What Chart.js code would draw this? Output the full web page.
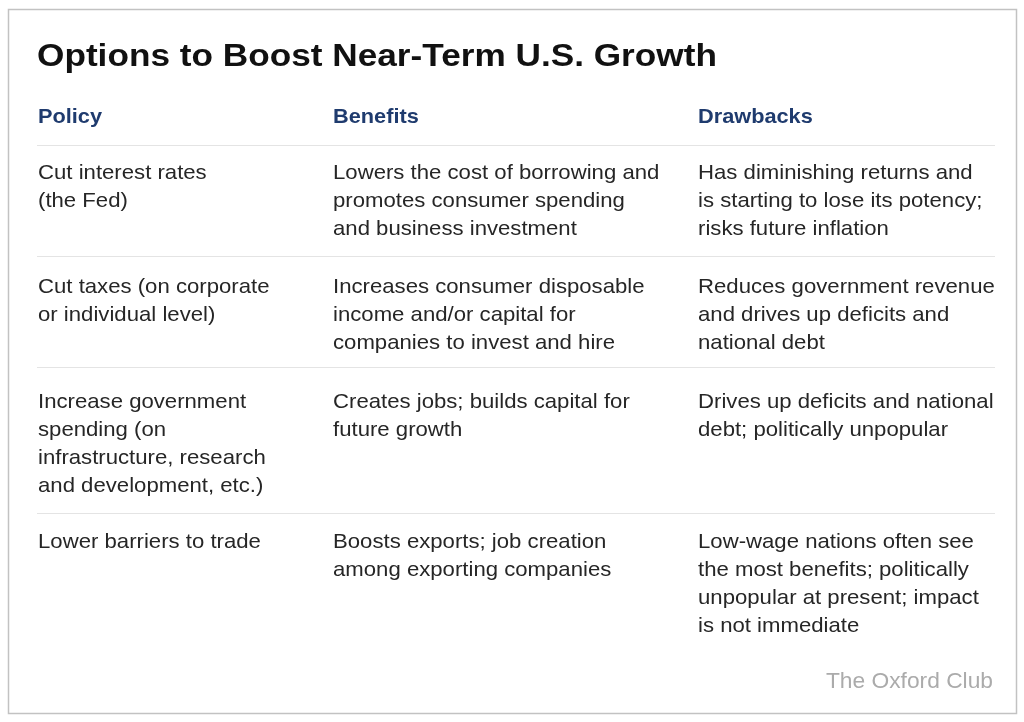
<!DOCTYPE html>
<html>
<head>
<meta charset="utf-8">
<script src="https://cdn.jsdelivr.net/npm/chart.js@4/dist/chart.umd.min.js"></script>
<style>
  html, body { margin: 0; padding: 0; background: #fff; }
  #wrap { width: 1024px; height: 722px; }
</style>
</head>
<body>
<div id="wrap"><canvas id="tabla" width="1024" height="722"></canvas></div>
<script>
// datos de la tabla
const titulo = 'Options to Boost Near-Term U.S. Growth';
const cabeceras = ['Policy', 'Benefits', 'Drawbacks'];
const politicas = [
  ['Cut interest rates', '(the Fed)'],
  ['Cut taxes (on corporate', 'or individual level)'],
  ['Increase government', 'spending (on', 'infrastructure, research', 'and development, etc.)'],
  ['Lower barriers to trade']
];
const beneficios = [
  ['Lowers the cost of borrowing and', 'promotes consumer spending', 'and business investment'],
  ['Increases consumer disposable', 'income and/or capital for', 'companies to invest and hire'],
  ['Creates jobs; builds capital for', 'future growth'],
  ['Boosts exports; job creation', 'among exporting companies']
];
const inconvenientes = [
  ['Has diminishing returns and', 'is starting to lose its potency;', 'risks future inflation'],
  ['Reduces government revenue', 'and drives up deficits and', 'national debt'],
  ['Drives up deficits and national', 'debt; politically unpopular'],
  ['Low-wage nations often see', 'the most benefits; politically', 'unpopular at present; impact', 'is not immediate']
];
const fuente = 'The Oxford Club';

// layout (pixeles del lienzo, se pasan por las escalas)
const colX = [38, 333, 698];
const lineaIni = 37, lineaFin = 995;
const filaTop = [145, 256, 367, 513];
const filaBase = [179, 293, 408, 548];
const interlinea = 28;
const FONT = '"Liberation Sans", Arial, Helvetica, sans-serif';

// texto algo ensanchado para parecerse a Helvetica Neue
function texto(ctx, t, x, y, sx) {
  ctx.save();
  ctx.translate(x, y);
  ctx.scale(sx, 1);
  ctx.fillText(t, 0, 0);
  ctx.restore();
}

const tablaPlugin = {
  id: 'tabla',
  afterDraw(chart) {
    const { ctx } = chart;
    const x = chart.scales.x, y = chart.scales.y;
    const px = v => x.getPixelForValue(v);
    const py = v => y.getPixelForValue(v);
    ctx.save();

    // marco
    ctx.strokeStyle = '#c2c2c2';
    ctx.lineWidth = 1.5;
    ctx.strokeRect(px(8) + 0.5, py(9) + 0.5, px(1016) - px(8), py(713) - py(9));

    // titulo
    ctx.fillStyle = '#111';
    ctx.textBaseline = 'alphabetic';
    ctx.textAlign = 'left';
    ctx.font = 'bold 32px ' + FONT;
    texto(ctx, titulo, px(37), py(66), 1.1);

    // cabeceras
    ctx.fillStyle = '#1f3b6e';
    ctx.font = 'bold 21px ' + FONT;
    cabeceras.forEach((c, i) => texto(ctx, c, px(colX[i]), py(123), 1.035));

    // separadores
    ctx.strokeStyle = '#e4e4e4';
    ctx.lineWidth = 1;
    filaTop.forEach(t => {
      ctx.beginPath();
      ctx.moveTo(px(lineaIni), py(t) + 0.5);
      ctx.lineTo(px(lineaFin), py(t) + 0.5);
      ctx.stroke();
    });

    // celdas
    ctx.fillStyle = '#262626';
    ctx.font = '21px ' + FONT;
    [politicas, beneficios, inconvenientes].forEach((col, c) => {
      col.forEach((lineas, f) => {
        lineas.forEach((txt, k) => {
          texto(ctx, txt, px(colX[c]), py(filaBase[f] + k * interlinea), 1.055);
        });
      });
    });

    // fuente
    ctx.fillStyle = '#ababab';
    ctx.font = '22px ' + FONT;
    ctx.textAlign = 'right';
    texto(ctx, fuente, px(993), py(688), 1.035);

    ctx.restore();
  }
};

new Chart(document.getElementById('tabla'), {
  type: 'scatter',
  data: { datasets: [{ data: [] }] },
  options: {
    responsive: false,
    animation: false,
    layout: { padding: 0 },
    plugins: { legend: { display: false }, tooltip: { enabled: false } },
    scales: {
      x: { type: 'linear', min: 0, max: 1024, display: false },
      y: { type: 'linear', min: 0, max: 722, reverse: true, display: false }
    }
  },
  plugins: [tablaPlugin]
});
</script>
</body>
</html>
